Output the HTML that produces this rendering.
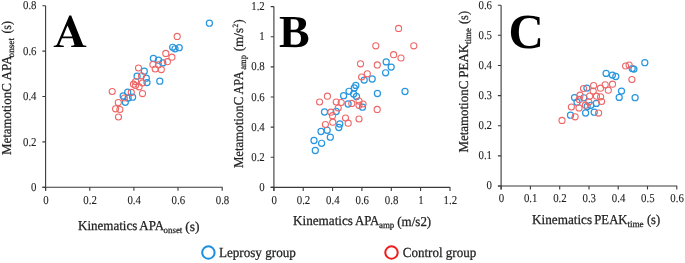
<!DOCTYPE html>
<html><head><meta charset="utf-8"><style>
html,body{margin:0;padding:0;background:#fff;}
body{width:685px;height:263px;overflow:hidden;}
svg{display:block;will-change:transform;}
text{font-family:"Liberation Serif", serif;fill:#222;stroke:#222;stroke-width:0.25px;text-rendering:geometricPrecision;}
.tk text{stroke-width:0.1px;}
.tk{font-size:12px;}
.big text{font-size:46px;font-weight:bold;fill:#000;stroke:none;}
.lg{font-size:13.8px;}
</style></head><body>
<svg width="685" height="263" viewBox="0 0 685 263">
<g fill="none" stroke="#3a3a3a" stroke-width="1.1">
<path d="M45.6 5.7V190.8M42.4 187.3H222.5" />
<path d="M45.6 187.3v3.5M89.8 187.3v3.5M133.9 187.3v3.5M178.0 187.3v3.5M222.2 187.3v3.5M42.4 187.3h3.2M42.4 141.9h3.2M42.4 96.5h3.2M42.4 51.1h3.2M42.4 5.7h3.2" />
<path d="M273.9 6.6V190.9M270.7 187.4H450.3" />
<path d="M273.9 187.4v3.5M303.2 187.4v3.5M332.6 187.4v3.5M361.9 187.4v3.5M391.3 187.4v3.5M420.6 187.4v3.5M450.0 187.4v3.5M270.7 187.4h3.2M270.7 157.3h3.2M270.7 127.1h3.2M270.7 97.0h3.2M270.7 66.9h3.2M270.7 36.7h3.2M270.7 6.6h3.2" />
<path d="M501.1 5.2V189.5M497.9 186.0H677.1" />
<path d="M501.1 186.0v3.5M530.4 186.0v3.5M559.7 186.0v3.5M589.0 186.0v3.5M618.2 186.0v3.5M647.5 186.0v3.5M676.8 186.0v3.5M497.9 186.0h3.2M497.9 155.9h3.2M497.9 125.7h3.2M497.9 95.6h3.2M497.9 65.5h3.2M497.9 35.3h3.2M497.9 5.2h3.2" />
</g>
<g class="tk">
<text transform="translate(45.90 203.85) scale(0.9 1)" text-anchor="middle">0</text>
<text transform="translate(90.05 203.85) scale(0.9 1)" text-anchor="middle">0.2</text>
<text transform="translate(134.20 203.85) scale(0.9 1)" text-anchor="middle">0.4</text>
<text transform="translate(178.35 203.85) scale(0.9 1)" text-anchor="middle">0.6</text>
<text transform="translate(222.50 203.85) scale(0.9 1)" text-anchor="middle">0.8</text>
<text transform="translate(36.50 190.95) scale(0.9 1)" text-anchor="end">0</text>
<text transform="translate(36.50 145.54) scale(0.9 1)" text-anchor="end">0.2</text>
<text transform="translate(36.50 100.12) scale(0.9 1)" text-anchor="end">0.4</text>
<text transform="translate(36.50 54.71) scale(0.9 1)" text-anchor="end">0.6</text>
<text transform="translate(36.50 9.30) scale(0.9 1)" text-anchor="end">0.8</text>
<text transform="translate(274.15 203.90) scale(0.9 1)" text-anchor="middle">0</text>
<text transform="translate(303.51 203.90) scale(0.9 1)" text-anchor="middle">0.2</text>
<text transform="translate(332.87 203.90) scale(0.9 1)" text-anchor="middle">0.4</text>
<text transform="translate(362.23 203.90) scale(0.9 1)" text-anchor="middle">0.6</text>
<text transform="translate(391.58 203.90) scale(0.9 1)" text-anchor="middle">0.8</text>
<text transform="translate(420.94 203.90) scale(0.9 1)" text-anchor="middle">1</text>
<text transform="translate(450.30 203.90) scale(0.9 1)" text-anchor="middle">1.2</text>
<text transform="translate(264.75 191.00) scale(0.9 1)" text-anchor="end">0</text>
<text transform="translate(264.75 160.87) scale(0.9 1)" text-anchor="end">0.2</text>
<text transform="translate(264.75 130.73) scale(0.9 1)" text-anchor="end">0.4</text>
<text transform="translate(264.75 100.60) scale(0.9 1)" text-anchor="end">0.6</text>
<text transform="translate(264.75 70.47) scale(0.9 1)" text-anchor="end">0.8</text>
<text transform="translate(264.75 40.33) scale(0.9 1)" text-anchor="end">1</text>
<text transform="translate(264.75 10.20) scale(0.9 1)" text-anchor="end">1.2</text>
<text transform="translate(501.40 201.90) scale(0.9 1)" text-anchor="middle">0</text>
<text transform="translate(530.68 201.90) scale(0.9 1)" text-anchor="middle">0.1</text>
<text transform="translate(559.97 201.90) scale(0.9 1)" text-anchor="middle">0.2</text>
<text transform="translate(589.25 201.90) scale(0.9 1)" text-anchor="middle">0.3</text>
<text transform="translate(618.53 201.90) scale(0.9 1)" text-anchor="middle">0.4</text>
<text transform="translate(647.82 201.90) scale(0.9 1)" text-anchor="middle">0.5</text>
<text transform="translate(677.10 201.90) scale(0.9 1)" text-anchor="middle">0.6</text>
<text transform="translate(492.00 189.30) scale(0.9 1)" text-anchor="end">0</text>
<text transform="translate(492.00 159.17) scale(0.9 1)" text-anchor="end">0.1</text>
<text transform="translate(492.00 129.03) scale(0.9 1)" text-anchor="end">0.2</text>
<text transform="translate(492.00 98.90) scale(0.9 1)" text-anchor="end">0.3</text>
<text transform="translate(492.00 68.77) scale(0.9 1)" text-anchor="end">0.4</text>
<text transform="translate(492.00 38.63) scale(0.9 1)" text-anchor="end">0.5</text>
<text transform="translate(492.00 8.50) scale(0.9 1)" text-anchor="end">0.6</text>
</g>
<g>
<text x="78.00" y="230.30" font-size="13.6" textLength="59.30" lengthAdjust="spacingAndGlyphs">Kinematics</text>
<text x="139.30" y="230.30" font-size="13.6" textLength="24.70" lengthAdjust="spacingAndGlyphs">APA</text>
<text x="163.60" y="233.30" font-size="9.2" textLength="18.70" lengthAdjust="spacingAndGlyphs">onset</text>
<text x="185.30" y="231.10" font-size="13.6" textLength="14.30" lengthAdjust="spacingAndGlyphs">(s)</text>
<text x="293.00" y="225.00" font-size="13.6" textLength="60.00" lengthAdjust="spacingAndGlyphs">Kinematics</text>
<text x="354.90" y="225.00" font-size="13.6" textLength="24.50" lengthAdjust="spacingAndGlyphs">APA</text>
<text x="379.00" y="228.00" font-size="9.2" textLength="15.30" lengthAdjust="spacingAndGlyphs">amp</text>
<text x="397.30" y="225.50" font-size="13.6" textLength="33.90" lengthAdjust="spacingAndGlyphs">(m/s2)</text>
<text x="532.10" y="223.60" font-size="13.6" textLength="60.00" lengthAdjust="spacingAndGlyphs">Kinematics</text>
<text x="594.30" y="223.60" font-size="13.6" textLength="33.20" lengthAdjust="spacingAndGlyphs">PEAK</text>
<text x="627.40" y="226.60" font-size="9.2" textLength="16.30" lengthAdjust="spacingAndGlyphs">time</text>
<text x="646.90" y="224.00" font-size="13.6" textLength="13.30" lengthAdjust="spacingAndGlyphs">(s)</text>
<text transform="translate(11.40 155.10) rotate(-90)" font-size="13.6" textLength="71.90" lengthAdjust="spacingAndGlyphs">MetamotionC</text>
<text transform="translate(11.40 80.50) rotate(-90)" font-size="13.6" textLength="24.90" lengthAdjust="spacingAndGlyphs">APA</text>
<text transform="translate(14.40 57.40) rotate(-90)" font-size="9.2" textLength="19.40" lengthAdjust="spacingAndGlyphs">onset</text>
<text transform="translate(11.40 33.60) rotate(-90)" font-size="13.6" textLength="12.50" lengthAdjust="spacingAndGlyphs">(s)</text>
<text transform="translate(242.80 168.10) rotate(-90)" font-size="13.6" textLength="71.30" lengthAdjust="spacingAndGlyphs">MetamotionC</text>
<text transform="translate(242.80 94.60) rotate(-90)" font-size="13.6" textLength="23.40" lengthAdjust="spacingAndGlyphs">APA</text>
<text transform="translate(245.80 69.70) rotate(-90)" font-size="9.2" textLength="14.70" lengthAdjust="spacingAndGlyphs">amp</text>
<text transform="translate(242.80 51.30) rotate(-90)" font-size="13.6" textLength="23.30" lengthAdjust="spacingAndGlyphs">(m/s</text>
<text transform="translate(238.20 27.60) rotate(-90)" font-size="8" textLength="3.60" lengthAdjust="spacingAndGlyphs">2</text>
<text transform="translate(242.80 23.60) rotate(-90)" font-size="13.6" textLength="4.10" lengthAdjust="spacingAndGlyphs">)</text>
<text transform="translate(467.80 152.60) rotate(-90)" font-size="13.6" textLength="71.90" lengthAdjust="spacingAndGlyphs">MetamotionC</text>
<text transform="translate(467.80 77.70) rotate(-90)" font-size="13.6" textLength="33.80" lengthAdjust="spacingAndGlyphs">PEAK</text>
<text transform="translate(470.80 43.90) rotate(-90)" font-size="9.2" textLength="15.80" lengthAdjust="spacingAndGlyphs">time</text>
<text transform="translate(467.80 24.00) rotate(-90)" font-size="13.6" textLength="13.00" lengthAdjust="spacingAndGlyphs">(s)</text>
</g>
<g fill="none" stroke-width="1.0"><g stroke="#2796e0" stroke-width="1.2"><circle cx="209.4" cy="23.2" r="3.05"/><circle cx="172.7" cy="47.3" r="3.05"/><circle cx="175.0" cy="48.8" r="3.05"/><circle cx="179.2" cy="47.7" r="3.05"/><circle cx="153.4" cy="58.4" r="3.05"/><circle cx="158.5" cy="60.2" r="3.05"/><circle cx="162.8" cy="62.9" r="3.05"/><circle cx="144.3" cy="71.2" r="3.05"/><circle cx="146.3" cy="78.2" r="3.05"/><circle cx="147.0" cy="82.6" r="3.05"/><circle cx="159.8" cy="81.2" r="3.05"/><circle cx="137.1" cy="76.2" r="3.05"/><circle cx="127.7" cy="92.2" r="3.05"/><circle cx="123.2" cy="96.0" r="3.05"/><circle cx="132.6" cy="97.2" r="3.05"/><circle cx="125.3" cy="102.3" r="3.05"/><circle cx="128.2" cy="98.0" r="3.05"/><circle cx="386.2" cy="61.9" r="3.05"/><circle cx="391.2" cy="67.1" r="3.05"/><circle cx="385.6" cy="72.8" r="3.05"/><circle cx="405.0" cy="91.5" r="3.05"/><circle cx="364.2" cy="80.1" r="3.05"/><circle cx="372.2" cy="79.0" r="3.05"/><circle cx="355.8" cy="85.4" r="3.05"/><circle cx="354.3" cy="88.0" r="3.05"/><circle cx="349.0" cy="91.3" r="3.05"/><circle cx="343.6" cy="95.7" r="3.05"/><circle cx="353.6" cy="94.0" r="3.05"/><circle cx="356.5" cy="96.4" r="3.05"/><circle cx="377.4" cy="93.5" r="3.05"/><circle cx="348.1" cy="104.0" r="3.05"/><circle cx="362.5" cy="107.2" r="3.05"/><circle cx="324.5" cy="112.0" r="3.05"/><circle cx="336.2" cy="111.5" r="3.05"/><circle cx="339.8" cy="124.0" r="3.05"/><circle cx="338.8" cy="127.5" r="3.05"/><circle cx="327.2" cy="130.3" r="3.05"/><circle cx="321.0" cy="131.5" r="3.05"/><circle cx="330.3" cy="137.2" r="3.05"/><circle cx="314.0" cy="140.5" r="3.05"/><circle cx="321.6" cy="143.3" r="3.05"/><circle cx="315.3" cy="150.5" r="3.05"/><circle cx="644.8" cy="62.7" r="3.05"/><circle cx="632.2" cy="68.6" r="3.05"/><circle cx="633.9" cy="69.1" r="3.05"/><circle cx="606.1" cy="73.4" r="3.05"/><circle cx="612.4" cy="75.1" r="3.05"/><circle cx="615.8" cy="76.5" r="3.05"/><circle cx="621.5" cy="91.1" r="3.05"/><circle cx="619.2" cy="97.4" r="3.05"/><circle cx="635.1" cy="97.7" r="3.05"/><circle cx="586.9" cy="88.1" r="3.05"/><circle cx="574.5" cy="97.6" r="3.05"/><circle cx="577.0" cy="102.2" r="3.05"/><circle cx="583.8" cy="97.8" r="3.05"/><circle cx="590.8" cy="105.3" r="3.05"/><circle cx="596.3" cy="103.4" r="3.05"/><circle cx="587.2" cy="106.4" r="3.05"/><circle cx="585.6" cy="113.0" r="3.05"/><circle cx="594.2" cy="112.2" r="3.05"/><circle cx="570.5" cy="115.2" r="3.05"/></g><g stroke="#ee6666" stroke-width="1.1"><circle cx="177.2" cy="36.4" r="3.05"/><circle cx="165.8" cy="53.4" r="3.05"/><circle cx="171.9" cy="57.2" r="3.05"/><circle cx="167.4" cy="61.7" r="3.05"/><circle cx="152.9" cy="64.5" r="3.05"/><circle cx="158.5" cy="64.8" r="3.05"/><circle cx="155.2" cy="69.0" r="3.05"/><circle cx="161.3" cy="69.6" r="3.05"/><circle cx="138.5" cy="68.0" r="3.05"/><circle cx="141.5" cy="75.8" r="3.05"/><circle cx="142.4" cy="83.0" r="3.05"/><circle cx="135.6" cy="81.6" r="3.05"/><circle cx="133.5" cy="84.2" r="3.05"/><circle cx="135.5" cy="85.5" r="3.05"/><circle cx="139.1" cy="86.8" r="3.05"/><circle cx="142.5" cy="93.6" r="3.05"/><circle cx="131.3" cy="92.4" r="3.05"/><circle cx="124.3" cy="98.0" r="3.05"/><circle cx="112.2" cy="91.5" r="3.05"/><circle cx="118.3" cy="102.6" r="3.05"/><circle cx="115.6" cy="108.8" r="3.05"/><circle cx="119.9" cy="109.5" r="3.05"/><circle cx="118.5" cy="117.0" r="3.05"/><circle cx="398.6" cy="28.4" r="3.05"/><circle cx="375.8" cy="45.8" r="3.05"/><circle cx="413.8" cy="45.8" r="3.05"/><circle cx="393.6" cy="54.7" r="3.05"/><circle cx="401.0" cy="58.0" r="3.05"/><circle cx="377.3" cy="64.9" r="3.05"/><circle cx="360.5" cy="63.8" r="3.05"/><circle cx="367.3" cy="73.8" r="3.05"/><circle cx="361.6" cy="77.0" r="3.05"/><circle cx="327.4" cy="96.2" r="3.05"/><circle cx="319.6" cy="102.0" r="3.05"/><circle cx="336.2" cy="102.0" r="3.05"/><circle cx="341.2" cy="102.5" r="3.05"/><circle cx="338.2" cy="108.0" r="3.05"/><circle cx="351.8" cy="103.4" r="3.05"/><circle cx="359.0" cy="101.1" r="3.05"/><circle cx="359.0" cy="105.3" r="3.05"/><circle cx="363.0" cy="104.0" r="3.05"/><circle cx="377.2" cy="109.4" r="3.05"/><circle cx="330.9" cy="112.2" r="3.05"/><circle cx="332.5" cy="115.7" r="3.05"/><circle cx="345.5" cy="118.0" r="3.05"/><circle cx="359.0" cy="119.0" r="3.05"/><circle cx="348.2" cy="123.2" r="3.05"/><circle cx="332.8" cy="122.2" r="3.05"/><circle cx="325.4" cy="124.5" r="3.05"/><circle cx="625.6" cy="66.0" r="3.05"/><circle cx="629.1" cy="65.1" r="3.05"/><circle cx="631.9" cy="79.5" r="3.05"/><circle cx="612.5" cy="84.2" r="3.05"/><circle cx="605.2" cy="84.8" r="3.05"/><circle cx="608.3" cy="90.2" r="3.05"/><circle cx="600.5" cy="88.2" r="3.05"/><circle cx="593.6" cy="85.6" r="3.05"/><circle cx="593.2" cy="91.1" r="3.05"/><circle cx="589.7" cy="96.1" r="3.05"/><circle cx="596.5" cy="96.2" r="3.05"/><circle cx="583.5" cy="88.5" r="3.05"/><circle cx="580.0" cy="95.2" r="3.05"/><circle cx="600.6" cy="96.8" r="3.05"/><circle cx="579.3" cy="99.4" r="3.05"/><circle cx="601.6" cy="101.5" r="3.05"/><circle cx="588.8" cy="102.0" r="3.05"/><circle cx="585.4" cy="105.2" r="3.05"/><circle cx="571.4" cy="107.0" r="3.05"/><circle cx="579.0" cy="107.9" r="3.05"/><circle cx="598.6" cy="113.1" r="3.05"/><circle cx="575.1" cy="116.8" r="3.05"/><circle cx="562.0" cy="120.4" r="3.05"/></g></g>
<path fill="#000" fill-rule="evenodd" d="M69.3 15.5L71.2 15.5L83.0 44.9Q83.7 45.6 86.3 45.8L86.3 46.9L71.2 46.9L71.2 45.8Q74.0 45.7 74.5 44.7L72.6 38.3L62.0 38.3L59.4 44.6Q59.4 45.6 63.8 45.8L63.8 46.9L53.7 46.9L53.7 45.8Q56.0 45.6 57.0 44.4Z M67.5 25.6L72.3 36.6L63.0 36.6Z"/>
<g class="big">
<text x="279" y="46.8">B</text>
<text transform="translate(508.4 47.9) scale(1.0 1)" style="font-size:49px">C</text>
</g>
<circle cx="208.4" cy="252.5" r="6.2" fill="none" stroke="#1e8fe0" stroke-width="2"/>
<circle cx="391.5" cy="252.5" r="6.2" fill="none" stroke="#ee1c1c" stroke-width="2"/>
<g class="lg">
<text x="218.9" y="256.7" textLength="77.0" lengthAdjust="spacingAndGlyphs">Leprosy group</text>
<text x="402.8" y="256.7" textLength="73.4" lengthAdjust="spacingAndGlyphs">Control group</text>
</g>
</svg>
</body></html>
